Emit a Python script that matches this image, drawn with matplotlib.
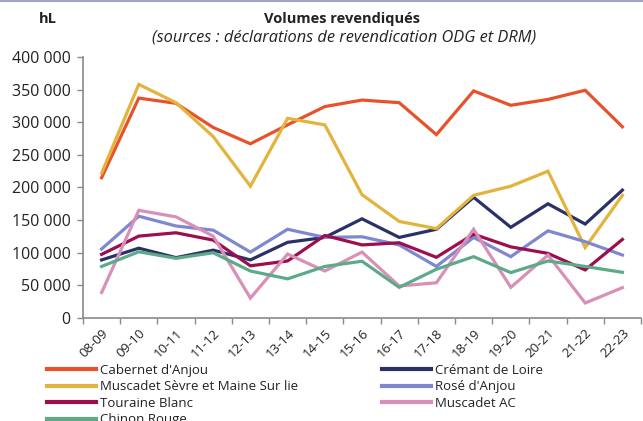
"""
Volumes revendiqués par appellation (hL), campagnes 08-09 à 22-23.
"""
import matplotlib
matplotlib.use("Agg")
import matplotlib.pyplot as plt
from matplotlib.lines import Line2D
from matplotlib.ticker import FuncFormatter

plt.rcParams['font.family'] = ['Open Sans', 'DejaVu Sans']

campagnes = ['08-09', '09-10', '10-11', '11-12', '12-13', '13-14', '14-15', '15-16',
             '16-17', '17-18', '18-19', '19-20', '20-21', '21-22', '22-23']

cabernet_anjou = [215000, 337000, 329000, 292000, 267000, 296000, 324000, 334000,
                  330000, 281000, 348000, 326000, 335000, 349000, 293000]
cremant_loire = [89000, 107000, 92500, 104000, 89000, 116000, 123500, 152000,
                 123500, 136000, 185000, 139000, 175000, 144000, 196000]
muscadet_sml = [222000, 358000, 330000, 278000, 202000, 306000, 296000, 189000,
                148000, 137000, 188000, 202000, 225000, 108000, 188000]
rose_anjou = [105700, 156000, 141000, 134600, 101000, 136000, 123500, 124500,
              112000, 79000, 123500, 94000, 133600, 117000, 96500]
touraine_blanc = [97500, 125500, 130600, 119400, 80000, 87400, 126500, 112000,
                  115300, 93000, 128500, 109000, 99000, 73700, 120400]
muscadet_ac = [39000, 165000, 155000, 125500, 30500, 98000, 72000, 101000,
               49000, 54000, 136000, 47000, 96500, 23000, 46500]
chinon_rouge = [79000, 101500, 91500, 100000, 72000, 60000, 79000, 87000,
                47000, 74700, 94000, 69600, 87400, 79000, 70000]

series = [
    ("Cabernet d'Anjou", cabernet_anjou, '#E8522B'),
    ("Crémant de Loire", cremant_loire, '#2A3169'),
    ("Muscadet Sèvre et Maine Sur lie", muscadet_sml, '#E2B43D'),
    ("Rosé d'Anjou", rose_anjou, '#7F87D0'),
    ("Touraine Blanc", touraine_blanc, '#9C0E4E'),
    ("Muscadet AC", muscadet_ac, '#D890B8'),
    ("Chinon Rouge", chinon_rouge, '#5DAA88'),
]

fig = plt.figure(figsize=(6.43, 4.21), dpi=100)
ax = fig.add_axes([83 / 643, 103 / 421, 558 / 643, 261 / 421])

x = list(range(len(campagnes)))
lines = {}
for name, values, color in series:
    ln, = ax.plot(x, values, color=color, lw=2.3, solid_joinstyle='miter', label=name)
    lines[name] = ln

ax.set_xlim(-0.5, len(campagnes) - 0.5)
ax.set_ylim(0, 400000)
ax.set_yticks(range(0, 400001, 50000))
ax.yaxis.set_major_formatter(FuncFormatter(lambda v, p: f"{int(v):,}".replace(',', ' ')))

# tick marks at category boundaries, labels at category centres
ax.set_xticks([i - 0.5 for i in range(len(campagnes) + 1)])
ax.set_xticklabels([])
ax.set_xticks(x, minor=True)
ax.set_xticklabels(campagnes, minor=True, rotation=45, ha='right', va='top',
                   rotation_mode='anchor', fontsize=9.5, color='#222222')
ax.tick_params(axis='x', which='major', length=4, color='#8a8a8a', width=1)
ax.tick_params(axis='x', which='minor', length=0, pad=6)
ax.tick_params(axis='y', length=4, color='#8a8a8a', width=1, labelsize=11.5,
               labelcolor='#222222', pad=5)

for side in ['top', 'right']:
    ax.spines[side].set_visible(False)
for side in ['left', 'bottom']:
    ax.spines[side].set_color('#8a8a8a')
    ax.spines[side].set_linewidth(1.2)

fig.text(342 / 643, 1 - 19 / 421, 'Volumes revendiqués', ha='center', va='center',
         fontsize=10.5, fontweight='bold', color='#222222')
fig.text(344 / 643, 1 - 38 / 421, '(sources : déclarations de revendication ODG et DRM)',
         ha='center', va='center', fontsize=11.8, style='italic', color='#222222')
fig.text(48 / 643, 1 - 19 / 421, 'hL', ha='center', va='center',
         fontsize=10.5, fontweight='bold', color='#222222')

left_names = ["Cabernet d'Anjou", "Muscadet Sèvre et Maine Sur lie", "Touraine Blanc", "Chinon Rouge"]
right_names = ["Crémant de Loire", "Rosé d'Anjou", "Muscadet AC"]
leg_kw = dict(loc='upper left', frameon=False, fontsize=9.5, handlelength=3.7,
              handletextpad=0.3, labelspacing=0.26, borderpad=0, borderaxespad=0,
              labelcolor='#222222')
leg1 = fig.legend([lines[n] for n in left_names], left_names,
                  bbox_to_anchor=(47 / 643, 1 - 364 / 421), **leg_kw)
leg2 = fig.legend([lines[n] for n in right_names], right_names,
                  bbox_to_anchor=(382 / 643, 1 - 364 / 421), **leg_kw)
for leg in (leg1, leg2):
    for h in leg.legend_handles:
        h.set_linewidth(3)

# thin border at the top of the figure
fig.add_artist(Line2D([0, 1], [0.998, 0.998], transform=fig.transFigure,
                      color='#A0A3C8', lw=1.5))

fig.savefig('out.png', dpi=100)
